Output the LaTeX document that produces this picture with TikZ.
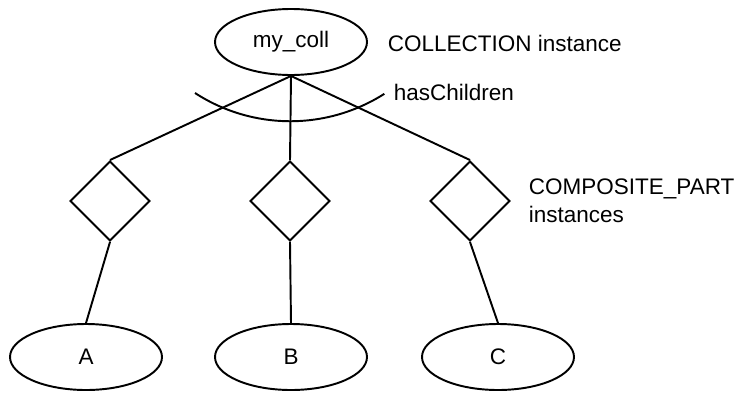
\documentclass[tikz,border=0pt]{standalone}
\usepackage{fontspec}
\setmainfont{Liberation Sans}
\usetikzlibrary{shapes.geometric}

\begin{document}
\begin{tikzpicture}[line width=1.1pt,
    inst/.style={ellipse, draw, minimum width=3.04cm, minimum height=1.32cm, inner sep=0pt},
    part/.style={diamond, draw, aspect=1, minimum size=1.6cm, inner sep=0pt},
    note/.style={anchor=west, inner sep=0pt, align=left}]
\fontsize{12.8pt}{15.9pt}\selectfont
\useasboundingbox (0,0) rectangle (14.78,7.84);

% the collection on top
\node[inst] (coll) at (5.82,7.0) {my\_coll};

% Define part diamonds and their instances in a loop
\foreach \name/\px/\ix/\label in {pa/2.2/1.72/A, pb/5.8/5.82/B, pc/9.4/9.96/C} {
    \node[part] (\name) at (\px,3.82) {};
    \node[inst] (\label) at (\ix,0.70) {\label};
}

% Define edges in a loop
\foreach \dest/\inst in {pa/A, pb/B, pc/C} {
    \draw (coll.south) -- (\dest.north);
    \draw (\dest.south) -- (\inst.north);
}

% the arc across the children edges
\coordinate (arcl) at (3.9,5.98);
\draw (arcl) arc[start angle=237, end angle=302.5, radius=3.5cm];

\node[note] (collnote) at (7.74,6.98) {COLLECTION instance};
\node[note] (hasch) at (7.86,6.0) {hasChildren};
\node[note] (partnote) at (10.56,3.82) {COMPOSITE\_PART\\instances};

\end{tikzpicture}
\end{document}
